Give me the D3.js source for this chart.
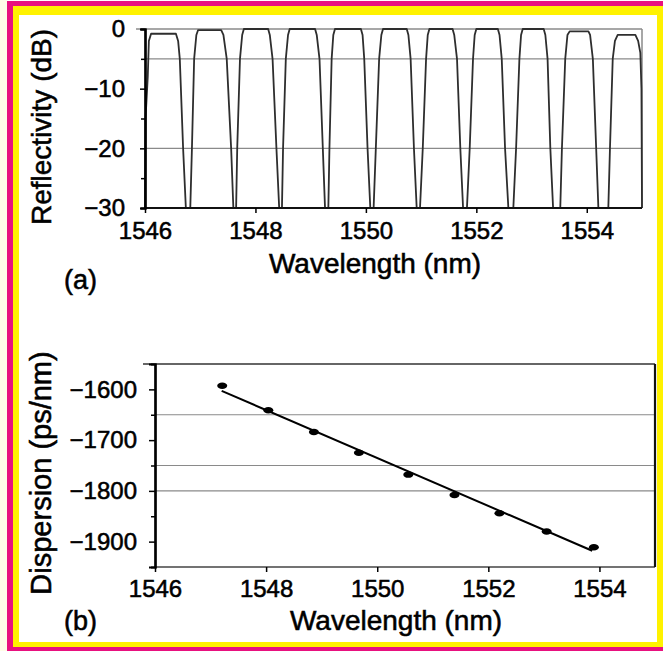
<!DOCTYPE html>
<html lang="en">
<head>
<meta charset="UTF-8">
<title>Reflectivity and dispersion</title>
<style>
  body { margin: 0; background: #fff; }
  text { font-family: "Liberation Sans", Arial, sans-serif; fill: #000; stroke: #000; stroke-width: 0.55px; }
</style>
</head>
<body>
<svg id="svg" width="663" height="651"></svg>
<script src="https://d3js.org/d3.v7.min.js"></script>
<script>
// (a) reflection spectrum: wavelength (nm) and reflectivity (dB)
const specWl = [
  1546.00, 1546.01, 1546.05, 1546.07, 1546.11, 1546.56, 1546.60, 1546.63, 1546.69, 1546.74,
  1546.82, 1546.85, 1546.89, 1546.93, 1546.96, 1547.38, 1547.42, 1547.48, 1547.56, 1547.60,
  1547.65, 1547.67, 1547.72, 1547.76, 1547.79, 1548.23, 1548.26, 1548.31, 1548.38, 1548.43,
  1548.48, 1548.50, 1548.55, 1548.59, 1548.62, 1549.08, 1549.11, 1549.16, 1549.22, 1549.26,
  1549.32, 1549.34, 1549.38, 1549.41, 1549.44, 1549.91, 1549.94, 1549.97, 1550.03, 1550.08,
  1550.14, 1550.18, 1550.24, 1550.28, 1550.31, 1550.74, 1550.77, 1550.81, 1550.87, 1550.92,
  1550.98, 1551.03, 1551.09, 1551.12, 1551.15, 1551.57, 1551.60, 1551.65, 1551.71, 1551.76,
  1551.83, 1551.88, 1551.94, 1551.97, 1552.00, 1552.39, 1552.42, 1552.46, 1552.52, 1552.58,
  1552.67, 1552.72, 1552.78, 1552.81, 1552.84, 1553.22, 1553.25, 1553.29, 1553.34, 1553.39,
  1553.52, 1553.55, 1553.61, 1553.65, 1553.69, 1554.03, 1554.06, 1554.11, 1554.17, 1554.21,
  1554.39, 1554.42, 1554.47, 1554.51, 1554.56, 1554.88, 1554.93, 1554.97, 1554.99, 1555.00
]
const specDb = [
  -30, -15, -8, -2, -0.8, -0.8, -2, -5, -20, -30,
  -30, -20, -5, -1, -0.2, -0.2, -1, -5, -20, -30,
  -30, -20, -5, -1, 0, 0, -1, -5, -20, -30,
  -30, -20, -5, -1, 0, 0, -1, -5, -20, -30,
  -30, -20, -5, -1, 0, 0, -1, -5, -20, -30,
  -30, -20, -5, -1, 0, 0, -1, -5, -20, -30,
  -30, -20, -5, -1, 0, 0, -1, -5, -20, -30,
  -30, -20, -5, -1, 0, 0, -1, -5, -20, -30,
  -30, -20, -5, -1, 0, 0, -1, -5, -20, -30,
  -30, -20, -5, -1, -0.4, -0.4, -1, -5, -20, -30,
  -30, -20, -5, -2, -1, -1, -2, -4, -10, -30
]

// (b) measured dispersion per channel and the fitted line
const dispWl = [1547.21, 1548.04, 1548.86, 1549.67, 1550.56, 1551.39, 1552.20, 1553.05, 1553.90]
const dispVal = [-1593, -1641, -1684, -1725, -1768, -1808, -1844, -1880, -1911]
const fitWl = [1547.20, 1553.87]
const fitVal = [-1603, -1918]

const xTicks = [1546, 1548, 1550, 1552, 1554]
const reflTicks = [0, -10, -20, -30]
const reflMinor = [-5, -15, -25]
const reflGrid = [-5, -20]
const dispTicks = [-1600, -1700, -1800, -1900]
const dispMinor = [-1650, -1750, -1850]
const dispGrid = [-1650, -1750, -1800]

const minus = d => d === 0 ? '0' : '\u2212' + Math.abs(d)

const svg = d3.select('#svg')

// page frame (magenta + yellow strips)
svg.append('rect').attr('x', 0).attr('y', 0).attr('width', 7).attr('height', 651).attr('fill', '#fffde8')
svg.append('rect').attr('x', 7).attr('y', 1).attr('width', 656).attr('height', 650).attr('fill', '#e8117f')
svg.append('rect').attr('x', 13).attr('y', 6).attr('width', 650).attr('height', 641).attr('fill', '#fff200')
svg.append('rect').attr('x', 19).attr('y', 15).attr('width', 638).attr('height', 627).attr('fill', '#fff')

// ---------- panel (a)
const xA = d3.scaleLinear().domain([1546, 1555]).range([145, 642])
const yA = d3.scaleLinear().domain([-30, 0]).range([208, 29])

svg.append('g').selectAll('line')
  .data(reflGrid).enter().append('line')
  .attr('x1', 145).attr('x2', 642)
  .attr('y1', d => yA(d)).attr('y2', d => yA(d))
  .attr('stroke', '#8a8a8a').attr('stroke-width', 1.2)

// frame of (a)
svg.append('line').attr('x1', 136).attr('x2', 642).attr('y1', yA(0)).attr('y2', yA(0))
  .attr('stroke', '#8a8a8a').attr('stroke-width', 1.5)
svg.append('line').attr('x1', 642).attr('x2', 642).attr('y1', yA(0)).attr('y2', yA(-30))
  .attr('stroke', '#8a8a8a').attr('stroke-width', 1.5)

const specLine = d3.line()
  .x((d, i) => xA(specWl[i]))
  .y(d => yA(d))
svg.append('path')
  .attr('d', specLine(specDb))
  .attr('fill', 'none')
  .attr('stroke', '#2e2e2e')
  .attr('stroke-width', 1.8)
  .attr('stroke-linejoin', 'round')

svg.append('line').attr('x1', 145).attr('x2', 642).attr('y1', yA(-30)).attr('y2', yA(-30))
  .attr('stroke', '#111').attr('stroke-width', 2)

const axA = svg.append('g').attr('transform', 'translate(145,0)')
  .call(d3.axisLeft(yA).tickValues(reflTicks).tickFormat(minus).tickSize(5).tickPadding(15))
axA.append('g').call(d3.axisLeft(yA).tickValues(reflMinor).tickFormat('').tickSize(4))
axA.selectAll('.domain').attr('stroke', '#000').attr('stroke-width', 2.2)

const axAx = svg.append('g').attr('transform', 'translate(0,208)')
  .call(d3.axisBottom(xA).tickValues(xTicks).tickFormat(d3.format('d')).tickSize(5).tickPadding(9))
axAx.select('.domain').remove()

svg.append('text').attr('x', 375).attr('y', 273).attr('text-anchor', 'middle')
  .style('font-size', '28px').text('Wavelength (nm)')
svg.append('text').attr('transform', 'translate(51,127) rotate(-90)').attr('text-anchor', 'middle')
  .style('font-size', '28px').text('Reflectivity (dB)')
svg.append('text').attr('x', 64).attr('y', 289).style('font-size', '27px').text('(a)')

// ---------- panel (b)
const xB = d3.scaleLinear().domain([1546, 1555]).range([155, 655])
const yB = d3.scaleLinear().domain([-1950, -1550]).range([567, 364])

svg.append('g').selectAll('line')
  .data(dispGrid).enter().append('line')
  .attr('x1', 155).attr('x2', 655)
  .attr('y1', d => yB(d)).attr('y2', d => yB(d))
  .attr('stroke', '#8a8a8a').attr('stroke-width', 1.2)

svg.append('line').attr('x1', 143).attr('x2', 655).attr('y1', yB(-1550)).attr('y2', yB(-1550))
  .attr('stroke', '#333').attr('stroke-width', 1.6)
svg.append('line').attr('x1', 155).attr('x2', 655).attr('y1', yB(-1950)).attr('y2', yB(-1950))
  .attr('stroke', '#444').attr('stroke-width', 1.6)
svg.append('line').attr('x1', 655).attr('x2', 655).attr('y1', yB(-1550)).attr('y2', yB(-1950))
  .attr('stroke', '#111').attr('stroke-width', 2.2)

svg.append('path')
  .attr('d', d3.line()(fitWl.map((w, i) => [xB(w), yB(fitVal[i])])))
  .attr('stroke', '#000').attr('stroke-width', 2).attr('fill', 'none')

svg.append('g').selectAll('ellipse')
  .data(dispVal).enter().append('ellipse')
  .attr('cx', (d, i) => xB(dispWl[i]))
  .attr('cy', d => yB(d))
  .attr('rx', 5).attr('ry', 3.2)
  .attr('fill', '#000')

const axB = svg.append('g').attr('transform', 'translate(155,0)')
  .call(d3.axisLeft(yB).tickValues(dispTicks).tickFormat(minus).tickSize(6).tickPadding(12))
axB.append('g').call(d3.axisLeft(yB).tickValues(dispMinor).tickFormat('').tickSize(4))
axB.selectAll('.domain').attr('stroke', '#000').attr('stroke-width', 2.2)

const axBx = svg.append('g').attr('transform', 'translate(0,567)')
  .call(d3.axisBottom(xB).tickValues(xTicks).tickFormat(d3.format('d')).tickSize(5).tickPadding(8))
axBx.select('.domain').remove()

svg.selectAll('.tick text').style('font-size', '24px')
svg.selectAll('.tick line').attr('stroke', '#000').attr('stroke-width', 1.5)

svg.append('text').attr('x', 396).attr('y', 630).attr('text-anchor', 'middle')
  .style('font-size', '28px').text('Wavelength (nm)')
svg.append('text').attr('transform', 'translate(51,473) rotate(-90)').attr('text-anchor', 'middle')
  .style('font-size', '29px').text('Dispersion (ps/nm)')
svg.append('text').attr('x', 64).attr('y', 630).style('font-size', '27px').text('(b)')
</script>
</body>
</html>
